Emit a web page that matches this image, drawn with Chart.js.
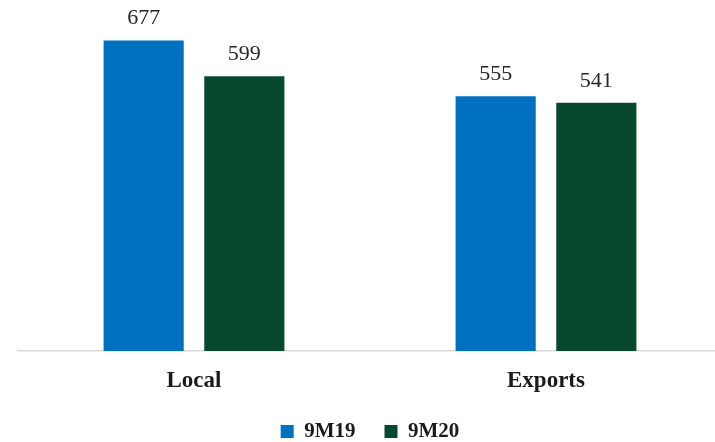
<!DOCTYPE html>
<html>
<head>
<meta charset="utf-8">
<script src="https://cdn.jsdelivr.net/npm/chart.js@4.4.1/dist/chart.umd.min.js"></script>
<style>
  html, body { margin: 0; padding: 0; background: #ffffff; overflow: hidden; }
  #wrap { width: 722px; height: 442px; }
</style>
</head>
<body>
<div id="wrap"><canvas id="chart" width="722" height="442"></canvas></div>
<script>
// Sales volume by market
const categories = ['Local', 'Exports'];
const seriesNames = ['9M19', '9M20'];
const values9M19 = [677, 555];
const values9M20 = [599, 541];
const seriesColors = ['#0070C0', '#06492F'];

const serif = "'Liberation Serif', 'DejaVu Serif', serif";

// Writes each bar's value above it
const valueLabels = {
  id: 'valueLabels',
  afterDatasetsDraw(chart) {
    const ctx = chart.ctx;
    ctx.save();
    ctx.font = "22px " + serif;
    ctx.fillStyle = '#262626';
    ctx.textAlign = 'center';
    ctx.textBaseline = 'alphabetic';
    chart.data.datasets.forEach((ds, i) => {
      chart.getDatasetMeta(i).data.forEach((bar, j) => {
        ctx.fillText(String(ds.data[j]), bar.x, bar.y - 16);
      });
    });
    ctx.restore();
  }
};

new Chart(document.getElementById('chart'), {
  type: 'bar',
  data: {
    labels: categories,
    datasets: [
      { label: seriesNames[0], data: values9M19, backgroundColor: seriesColors[0] },
      { label: seriesNames[1], data: values9M20, backgroundColor: seriesColors[1] }
    ]
  },
  options: {
    responsive: false,
    animation: false,
    layout: { padding: { left: 18, right: 0, top: 0, bottom: -10 } },
    datasets: { bar: { categoryPercentage: 0.572, barPercentage: 0.796 } },
    scales: {
      x: {
        grid: { display: false, drawTicks: false },
        border: { display: true, color: '#d9d9d9', width: 1.5 },
        ticks: { color: '#1a1a1a', padding: 16, font: { family: serif, size: 23, weight: 'bold' } },
        afterFit(scale) { scale.height = 41; }
      },
      y: {
        display: false,
        min: 0,
        max: 765
      }
    },
    plugins: {
      legend: {
        position: 'bottom',
        labels: {
          color: '#1a1a1a',
          boxWidth: 13,
          boxHeight: 13,
          padding: 29,
          font: { family: serif, size: 21, weight: 'bold' }
        }
      },
      tooltip: { enabled: false }
    }
  },
  plugins: [valueLabels]
});
</script>
</body>
</html>
